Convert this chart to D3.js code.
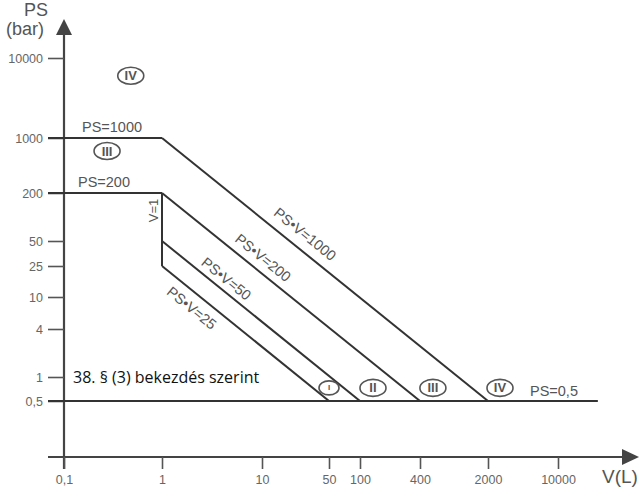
<!DOCTYPE html>
<html><head><meta charset="utf-8">
<script src="https://cdn.jsdelivr.net/npm/d3@7"></script>
<style>
html,body{margin:0;padding:0;background:#fff;}
svg{display:block;}
</style></head>
<body>
<svg id="chart" width="643" height="487"></svg>
<script>
// ---- data ----
const xTicks = [0.1, 1, 10, 50, 100, 400, 2000, 10000];
const xTickLabels = ["0,1", "1", "10", "50", "100", "400", "2000", "10000"];
const yTicks = [0.5, 1, 4, 10, 25, 50, 200, 1000, 10000];
const yTickLabels = ["0,5", "1", "4", "10", "25", "50", "200", "1000", "10000"];

const psHorizontal = [1000, 200, 0.5];          // PS limits (bar)
const psHorizontalEndV = [1, 1, 25000];         // where each horizontal stops (L)
const psHorizontalLabels = ["PS=1000", "PS=200", "PS=0,5"];
const pvProducts = [1000, 200, 50, 25];          // PS·V limits
const pvLabels = ["PS\u2022V=1000", "PS\u2022V=200", "PS\u2022V=50", "PS\u2022V=25"];
const vLine = 1, vLineTop = 200, vLineBottom = 25;
const minPS = 0.5, startV = 0.1;

const zoneNames = ["IV", "III", "I", "II", "III", "IV"];
const zoneV = [0.48, 0.275, 50, 135, 543, 2635];
const zonePS = [6000, 683, 0.73, 0.73, 0.73, 0.73];

const noteText = "38. \u00a7 (3) bekezdés szerint";

// ---- scales (piecewise log, as in the original figure) ----
const x = d3.scaleLog().domain(xTicks).range([64, 162, 262, 329, 360, 420, 488, 558]);
const y = d3.scaleLog().domain(yTicks).range([401, 377, 329, 297, 266, 241, 193, 138, 58]);

const svg = d3.select("#chart");
const axisColor = "#444", lineColor = "#333", textGray = "#555";
const axisX = 64, axisY = 457;

// axes lines
svg.append("line").attr("x1", axisX).attr("x2", axisX).attr("y1", 30).attr("y2", 469)
  .attr("stroke", axisColor).attr("stroke-width", 2.2);
svg.append("line").attr("x1", 48).attr("x2", 626).attr("y1", axisY).attr("y2", axisY)
  .attr("stroke", axisColor).attr("stroke-width", 2.2);
// arrows
svg.append("path").attr("d", `M${axisX},19 L${axisX - 8},35 L${axisX + 8},35 Z`).attr("fill", axisColor);
svg.append("path").attr("d", `M639,${axisY} L622,${axisY - 8} L622,${axisY + 8} Z`).attr("fill", axisColor);

// y ticks
const yAxis = d3.axisLeft(y).tickValues(yTicks).tickFormat((d, i) => yTickLabels[i]).tickSize(16).tickPadding(5);
const gy = svg.append("g").attr("transform", `translate(${axisX},0)`).call(yAxis);
gy.select(".domain").remove();
gy.selectAll(".tick line").attr("stroke", "#555").attr("stroke-width", 1.6);
gy.selectAll(".tick text").attr("fill", "#666").attr("font-family", "Liberation Sans, Arial, sans-serif")
  .attr("font-size", 12.5);

// x ticks
const xAxis = d3.axisBottom(x).tickValues(xTicks).tickFormat((d, i) => xTickLabels[i]).tickSize(12).tickPadding(6);
const gx = svg.append("g").attr("transform", `translate(0,${axisY})`).call(xAxis);
gx.select(".domain").remove();
gx.selectAll(".tick line").attr("stroke", "#555").attr("stroke-width", 1.6);
gx.selectAll(".tick text").attr("fill", "#666").attr("font-family", "Liberation Sans, Arial, sans-serif")
  .attr("font-size", 12.5);

// axis titles
const tf = "Liberation Sans, Arial, sans-serif";
svg.append("text").attr("x", 36).attr("y", 16).attr("text-anchor", "middle").attr("font-family", tf)
  .attr("font-size", 18).attr("fill", textGray).text("PS");
svg.append("text").attr("x", 25).attr("y", 35).attr("text-anchor", "middle").attr("font-family", tf)
  .attr("font-size", 18).attr("fill", textGray).text("(bar)");
svg.append("text").attr("x", 602).attr("y", 483).attr("font-family", tf)
  .attr("font-size", 19).attr("fill", textGray).text("V(L)");

// horizontal PS limits
psHorizontal.forEach((ps, i) => {
  svg.append("line").attr("x1", 48).attr("x2", x(psHorizontalEndV[i]))
    .attr("y1", y(ps)).attr("y2", y(ps)).attr("stroke", lineColor).attr("stroke-width", 2);
});
// V=1 vertical
svg.append("line").attr("x1", x(vLine)).attr("x2", x(vLine)).attr("y1", y(vLineTop)).attr("y2", y(vLineBottom))
  .attr("stroke", lineColor).attr("stroke-width", 2);
svg.append("text").attr("transform", `translate(${x(vLine) - 9},${(y(vLineTop) + y(vLineBottom)) / 2 - 19}) rotate(-90)`)
  .attr("text-anchor", "middle").attr("dominant-baseline", "central").attr("font-family", tf)
  .attr("font-size", 13).attr("fill", textGray).text("V=1");

// PS·V diagonals
const lineGen = d3.line().x(d => x(d[0])).y(d => y(d[1]));
const labelT = [0.41, 0.36, 0.29, 0.23];
const labelOff = [15, 13, 11, -14];
pvProducts.forEach((pv, i) => {
  const pts = [[1, pv], [pv / minPS, minPS]];
  svg.append("path").attr("d", lineGen(pts)).attr("fill", "none").attr("stroke", lineColor).attr("stroke-width", 2);
  const ax = x(pts[0][0]), ay = y(pts[0][1]), bx = x(pts[1][0]), by = y(pts[1][1]);
  const len = Math.hypot(bx - ax, by - ay);
  const ux = (bx - ax) / len, uy = (by - ay) / len;
  const ang = Math.atan2(by - ay, bx - ax) * 180 / Math.PI;
  const t = labelT[i] * len, o = labelOff[i];
  const cx = ax + ux * t + uy * o, cy = ay + uy * t - ux * o;
  svg.append("text").attr("transform", `translate(${cx},${cy}) rotate(${ang})`)
    .attr("text-anchor", "middle").attr("dominant-baseline", "central")
    .attr("font-family", tf).attr("font-size", 14.5).attr("fill", textGray).text(pvLabels[i]);
});

// horizontal labels
svg.append("text").attr("x", x(startV) + 18).attr("y", y(psHorizontal[0]) - 6).attr("font-family", tf)
  .attr("font-size", 14.5).attr("fill", textGray).text(psHorizontalLabels[0]);
svg.append("text").attr("x", x(startV) + 14).attr("y", y(psHorizontal[1]) - 6).attr("font-family", tf)
  .attr("font-size", 14.5).attr("fill", textGray).text(psHorizontalLabels[1]);
svg.append("text").attr("x", x(2000) + 42).attr("y", y(psHorizontal[2]) - 5).attr("font-family", tf)
  .attr("font-size", 14.5).attr("fill", textGray).text(psHorizontalLabels[2]);

// note
svg.append("text").attr("x", 73).attr("y", 383).attr("font-family", "Open Sans, Noto Sans, sans-serif")
  .attr("font-size", 16).attr("fill", "#111").text(noteText);

// zone markers
zoneNames.forEach((z, i) => {
  const cx = x(zoneV[i]), cy = y(zonePS[i]);
  const small = z === "I";
  svg.append("ellipse").attr("cx", cx).attr("cy", cy).attr("rx", small ? 10 : 13).attr("ry", small ? 7 : 8.5)
    .attr("fill", "#fff").attr("stroke", "#555").attr("stroke-width", 1.6);
  svg.append("text").attr("x", cx).attr("y", cy).attr("text-anchor", "middle").attr("dominant-baseline", "central")
    .attr("font-family", tf).attr("font-size", small ? 8 : 13).attr("font-weight", "bold")
    .attr("fill", "#555").text(z);
});
</script>
</body></html>
